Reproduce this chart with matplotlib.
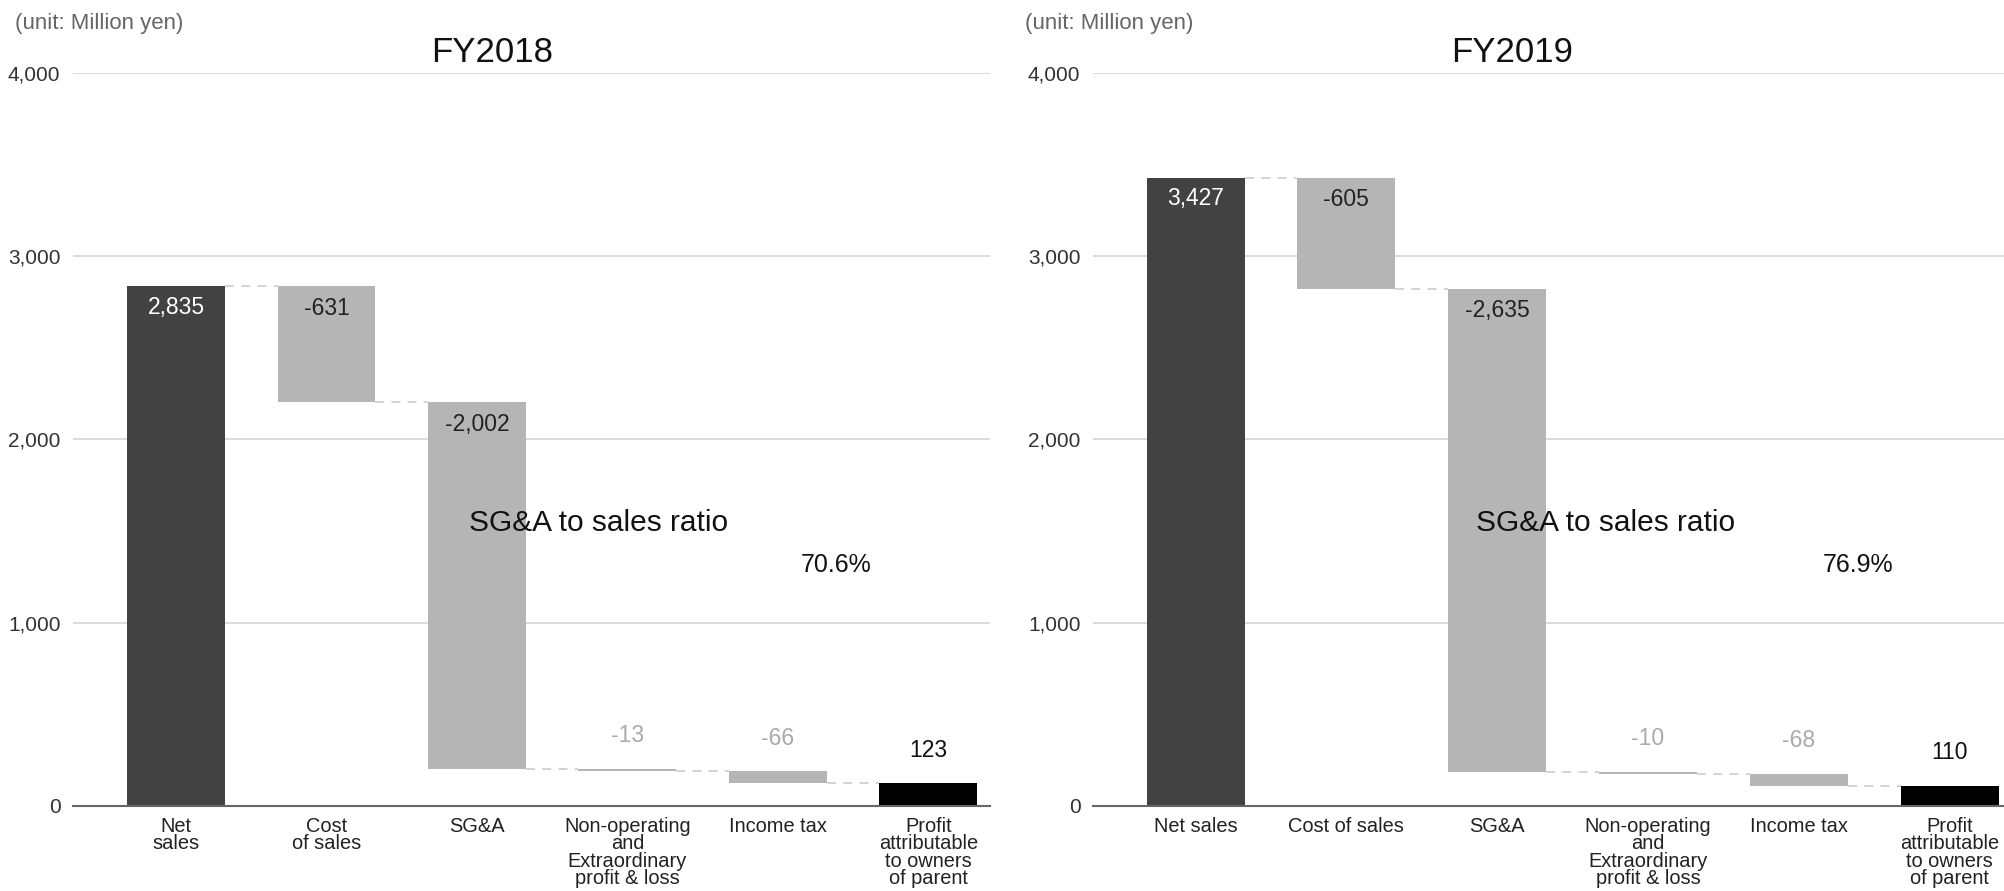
import matplotlib
matplotlib.use("Agg")
import matplotlib.pyplot as plt

plt.rcParams['font.family'] = ['Liberation Sans', 'DejaVu Sans']

categories_2018 = ["Net\nsales", "Cost\nof sales", "SG&A",
                   "Non-operating\nand\nExtraordinary\nprofit & loss",
                   "Income tax", "Profit\nattributable\nto owners\nof parent"]
categories_2019 = ["Net sales", "Cost of sales", "SG&A",
                   "Non-operating\nand\nExtraordinary\nprofit & loss",
                   "Income tax", "Profit\nattributable\nto owners\nof parent"]
values_2018 = [2835, -631, -2002, -13, -66, 123]
values_2019 = [3427, -605, -2635, -10, -68, 110]
labels_2018 = ["2,835", "-631", "-2,002", "-13", "-66", "123"]
labels_2019 = ["3,427", "-605", "-2,635", "-10", "-68", "110"]
ratio_2018 = "70.6%"
ratio_2019 = "76.9%"
yticks = [0, 1000, 2000, 3000, 4000]
ytick_labels = ["0", "1,000", "2,000", "3,000", "4,000"]

C_TOTAL = "#424242"
C_DELTA = "#b5b5b5"
C_PROFIT = "#000000"
C_GRID = "#d9d9d9"
W = 0.65


def waterfall(ax, cats, vals, labels, title, ratio, xlim, sga_x, title_x):
    n = len(vals)
    x = list(range(n))
    bottoms, heights, colors = [], [], []
    level = 0
    levels_after = []
    for i, v in enumerate(vals):
        if i == 0:
            bottoms.append(0); heights.append(v); colors.append(C_TOTAL)
            level = v
        elif i == n - 1:
            bottoms.append(0); heights.append(v); colors.append(C_PROFIT)
            level = v
        else:
            bottoms.append(level + v); heights.append(-v); colors.append(C_DELTA)
            level = level + v
        levels_after.append(level)

    ax.bar(x, heights, bottom=bottoms, width=W, color=colors, zorder=3)

    # dashed connectors
    for i in range(n - 1):
        ax.plot([x[i] + W / 2, x[i + 1] - W / 2], [levels_after[i]] * 2,
                ls=(0, (5, 4)), color="#d0d0d0", lw=1.3, zorder=2)

    # value labels
    for i, v in enumerate(vals):
        top = bottoms[i] + heights[i]
        if i == 0:
            off, col = -21, "white"
        elif i == n - 1:
            off, col = 33, "#111111"
        elif abs(v) > 300:
            off, col = -22, "#222222"
        else:
            off, col = 33, "#aaaaaa"
        ax.annotate(labels[i], (x[i], top), xytext=(0, off),
                    textcoords="offset pixels", ha="center", va="center",
                    color=col, fontsize=16.5, zorder=4)

    ax.text(sga_x, 1545, "SG&A to sales ratio", ha="left", va="center",
            fontsize=21.5, color="#111111", zorder=5)
    ax.text(4.39, 1315, ratio, ha="center", va="center",
            fontsize=18, color="#111111", zorder=5)

    ax.set_xlim(*xlim)
    ax.set_ylim(0, 4000)
    ax.set_yticks(yticks)
    ax.set_yticklabels(ytick_labels, fontsize=15, color="#333333")
    ax.set_xticks(x)
    ax.set_xticklabels(cats, fontsize=14.4, color="#222222", linespacing=0.88,
                       va="top")
    ax.tick_params(axis="both", length=0)
    ax.tick_params(axis="y", pad=9)
    ax.tick_params(axis="x", pad=8)
    for s in ["top", "right", "left"]:
        ax.spines[s].set_visible(False)
    ax.spines["bottom"].set_color("#666666")
    ax.spines["bottom"].set_linewidth(1.5)
    ax.spines["bottom"].set_zorder(4)
    ax.yaxis.grid(True, color=C_GRID, lw=1.3, zorder=0)
    ax.set_axisbelow(True)
    ax.set_title(title, fontsize=25, pad=8, color="#111111", x=title_x)


fig = plt.figure(figsize=(20.04, 8.91), dpi=100)
ax1 = fig.add_axes([0.0364, 0.0954, 0.4576, 0.8227])
ax2 = fig.add_axes([0.5454, 0.0954, 0.4546, 0.8227])

waterfall(ax1, categories_2018, values_2018, labels_2018, "FY2018", ratio_2018,
          (-0.685, 5.41), 1.95, 0.457)
waterfall(ax2, categories_2019, values_2019, labels_2019, "FY2019", ratio_2019,
          (-0.68, 5.36), 1.86, 0.46)

fig.text(0.0075, 0.974, "(unit: Million yen)", fontsize=16, color="#666666",
         ha="left", va="center")
fig.text(0.5115, 0.974, "(unit: Million yen)", fontsize=16, color="#666666",
         ha="left", va="center")

fig.savefig("out.png", dpi=100)
